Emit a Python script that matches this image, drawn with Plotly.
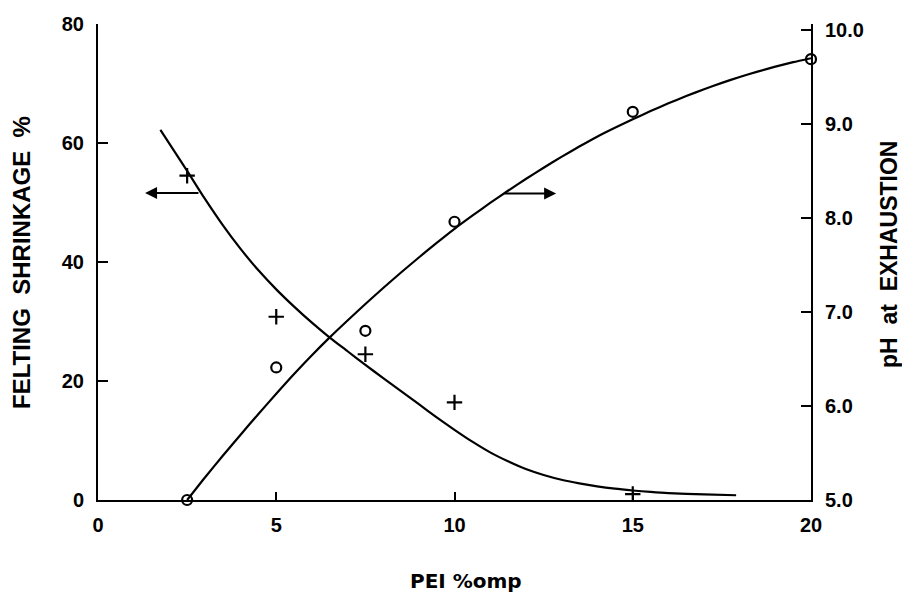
import plotly.graph_objects as go

# ---- data ----
pei_points = [2.5, 5, 7.5, 10, 15]
shrinkage = [54.5, 30.8, 24.5, 16.4, 1.0]

pei_ph_points = [2.5, 5, 7.5, 10, 15, 20]
ph_values = [5.0, 6.41, 6.80, 7.96, 9.13, 9.69]

# fitted curves
shrink_curve_x = [1.75, 2.5, 3.0, 3.5, 4.0, 4.5, 5.0, 5.5, 6.0, 6.5, 7.0, 7.5, 8.0, 8.5,
                  9.0, 9.5, 10.0, 10.5, 11.0, 11.5, 12.0, 12.5, 13.0, 13.5, 14.0, 14.5,
                  15.0, 15.5, 16.0, 17.0, 17.9]
shrink_curve_y = [62.2, 55.3, 50.6, 46.2, 42.2, 38.6, 35.4, 32.5, 29.8, 27.3, 25.0, 22.7,
                  20.5, 18.3, 16.1, 13.9, 11.8, 9.8, 8.0, 6.5, 5.2, 4.2, 3.4, 2.8, 2.3,
                  1.9, 1.6, 1.35, 1.15, 0.95, 0.8]

ph_curve_x = [2.5, 3.0, 3.5, 4.0, 4.5, 5.0, 5.5, 6.0, 6.5, 7.0, 7.5, 8.0, 8.5, 9.0, 9.5,
              10.0, 10.5, 11.0, 11.5, 12.0, 12.5, 13.0, 13.5, 14.0, 14.5, 15.0, 15.5,
              16.0, 16.5, 17.0, 17.5, 18.0, 18.5, 19.0, 19.5, 20.0]
ph_curve_y = [5.00, 5.24, 5.47, 5.695, 5.915, 6.13, 6.34, 6.54, 6.73, 6.91, 7.085, 7.255,
              7.42, 7.58, 7.735, 7.885, 8.025, 8.16, 8.29, 8.415, 8.535, 8.65, 8.76,
              8.865, 8.96, 9.05, 9.1375, 9.22, 9.2975, 9.37, 9.4375, 9.50, 9.5575, 9.61,
              9.6575, 9.70]

x_ticks = [0, 5, 10, 15, 20]
y_left_ticks = [0, 20, 40, 60, 80]
y_right_ticks = [5, 6, 7, 8, 9, 10]
y_right_labels = ["5.0", "6.0", "7.0", "8.0", "9.0", "10.0"]

# arrows indicating which axis each curve belongs to
left_arrow = dict(x_from=2.86, x_to=1.32, y=51.6)
right_arrow = dict(x_from=11.36, x_to=12.85, y=8.26)

# ---- figure ----
W, H = 902, 599
L, R, T, B = 98, 91, 24, 99
tick_font = dict(family="Liberation Sans", size=20, color="black", weight="bold")

fig = go.Figure()
fig.add_trace(go.Scatter(x=shrink_curve_x, y=shrink_curve_y, mode="lines",
                         line=dict(color="black", width=2.2, shape="spline", smoothing=0.6),
                         yaxis="y", showlegend=False, hoverinfo="skip"))
fig.add_trace(go.Scatter(x=pei_points, y=shrinkage, mode="markers",
                         marker=dict(symbol="cross-thin", size=11, color="black",
                                     line=dict(color="black", width=2.2)),
                         yaxis="y", showlegend=False))
fig.add_trace(go.Scatter(x=ph_curve_x, y=ph_curve_y, mode="lines",
                         line=dict(color="black", width=2.2, shape="spline", smoothing=0.6),
                         yaxis="y2", showlegend=False, hoverinfo="skip"))
fig.add_trace(go.Scatter(x=pei_ph_points, y=ph_values, mode="markers",
                         marker=dict(symbol="circle-open", size=10, color="black",
                                     line=dict(color="black", width=2.2)),
                         yaxis="y2", showlegend=False, cliponaxis=False))

ph_px_per_unit = (H - B - 30) / 5.0
plot_h = H - T - B
y2_top = 5 + plot_h / ph_px_per_unit

fig.update_layout(
    width=W, height=H,
    margin=dict(l=L, r=R, t=T, b=B),
    paper_bgcolor="white", plot_bgcolor="white",
    xaxis=dict(range=[0, 20], tickvals=x_ticks, ticks="inside", ticklen=8,
               tickwidth=2, tickcolor="black", showline=True, linecolor="black",
               linewidth=2, showgrid=False, zeroline=False, tickfont=tick_font,
               ticklabelstandoff=6),
    yaxis=dict(range=[0, 80], tickvals=y_left_ticks, ticks="inside", ticklen=10,
               tickwidth=2, tickcolor="black", showline=True, linecolor="black",
               linewidth=2, showgrid=False, zeroline=False, tickfont=tick_font,
               ticklabelstandoff=8),
    yaxis2=dict(range=[5, y2_top], tickvals=y_right_ticks, ticktext=y_right_labels,
                overlaying="y", side="right", ticks="inside", ticklen=10,
                tickwidth=2, tickcolor="black", showline=True, linecolor="black",
                linewidth=2, showgrid=False, zeroline=False, tickfont=tick_font,
                ticklabelstandoff=8),
)

title_font = dict(family="Liberation Sans", size=24, color="black", weight="bold")
pw = W - L - R
fig.add_annotation(text="FELTING  SHRINKAGE  %", xref="paper", yref="paper",
                   x=(21 - L) / pw, y=(H - B - 263) / plot_h, textangle=-90,
                   showarrow=False, font=title_font, xanchor="center", yanchor="middle")
fig.add_annotation(text="pH  at  EXHAUSTION", xref="paper", yref="paper",
                   x=(889 - L) / pw, y=(H - B - 255) / plot_h, textangle=-90,
                   showarrow=False, font=dict(title_font, size=23),
                   xanchor="center", yanchor="middle")
fig.add_annotation(text="PEI %omp", xref="paper", yref="paper",
                   x=(466 - L) / pw, y=-(581 - (H - B)) / plot_h,
                   showarrow=False, xanchor="center", yanchor="middle",
                   font=dict(family="DejaVu Sans", size=20, color="black", weight="bold"))

fig.add_annotation(x=left_arrow["x_to"], y=left_arrow["y"], xref="x", yref="y",
                   ax=left_arrow["x_from"], ay=left_arrow["y"], axref="x", ayref="y",
                   showarrow=True, arrowhead=2, arrowsize=1.2, arrowwidth=2,
                   arrowcolor="black", text="")
fig.add_annotation(x=right_arrow["x_to"], y=right_arrow["y"], xref="x", yref="y2",
                   ax=right_arrow["x_from"], ay=right_arrow["y"], axref="x", ayref="y2",
                   showarrow=True, arrowhead=2, arrowsize=1.2, arrowwidth=2,
                   arrowcolor="black", text="")

fig.write_html("out.html")
